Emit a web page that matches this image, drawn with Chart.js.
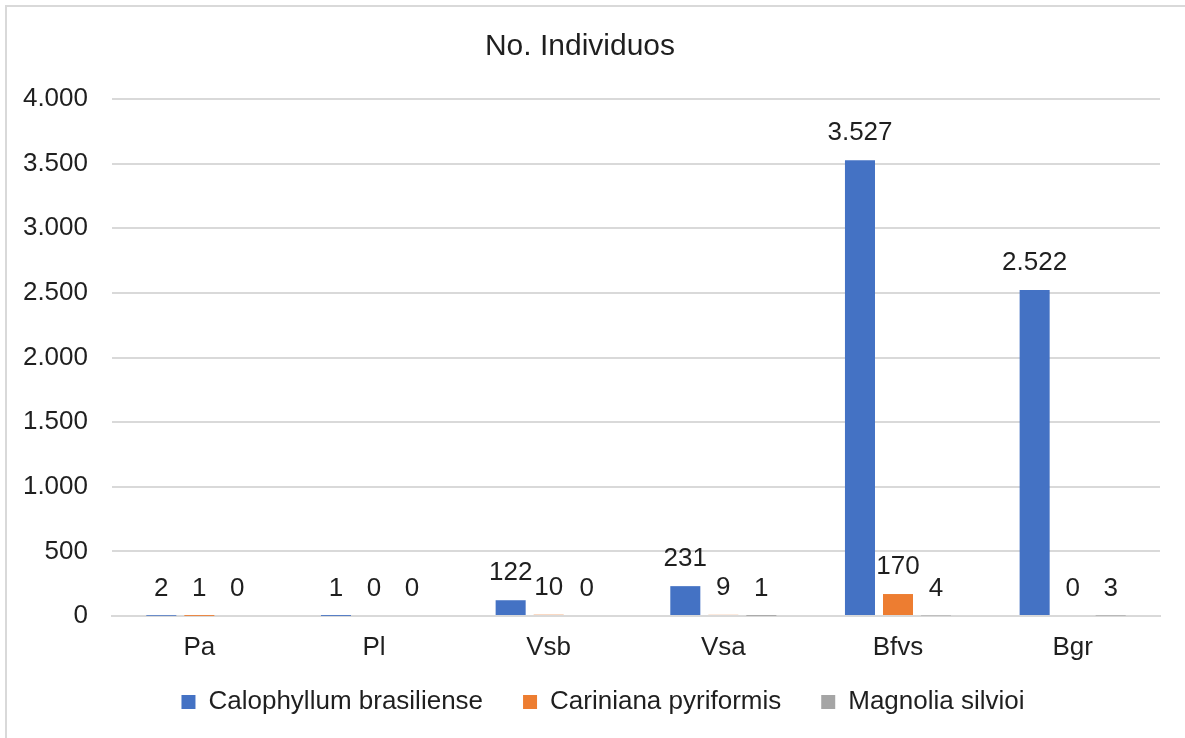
<!DOCTYPE html>
<html>
<head>
<meta charset="utf-8">
<script src="https://cdn.jsdelivr.net/npm/chart.js@4"></script>
<style>
  html, body { margin: 0; padding: 0; background: #fff; }
  #wrap { position: relative; width: 1185px; height: 738px; overflow: hidden; }
  #frame { position: absolute; left: 5px; top: 5px; width: 1190px; height: 740px; border: 2px solid #d9d9d9; box-sizing: border-box; pointer-events: none; }
</style>
</head>
<body>
<div id="wrap">
  <canvas id="chart"></canvas>
  <div id="frame"></div>
</div>
<script>
// datos
const categories = ['Pa', 'Pl', 'Vsb', 'Vsa', 'Bfvs', 'Bgr'];
const seriesNames = ['Calophyllum brasiliense', 'Cariniana pyriformis', 'Magnolia silvioi'];
const calophyllum = [2, 1, 122, 231, 3527, 2522];
const cariniana = [1, 0, 10, 9, 170, 0];
const magnolia = [0, 0, 0, 1, 4, 3];
const yTicks = [0, 500, 1000, 1500, 2000, 2500, 3000, 3500, 4000];
const colors = ['#4472C4', '#ED7D31', '#A5A5A5'];

const FONT = '"Liberation Sans", Arial, sans-serif';
const TXT = '#1f1f1f';

function fmt(n) {
  return String(n).replace(/\B(?=(\d{3})+(?!\d))/g, '.');
}

// etiquetas de datos encima de cada barra
const valueLabels = {
  id: 'valueLabels',
  afterDatasetsDraw(chart) {
    const ctx = chart.ctx;
    ctx.save();
    ctx.font = '26px ' + FONT;
    ctx.fillStyle = TXT;
    ctx.textAlign = 'center';
    ctx.textBaseline = 'middle';
    chart.data.datasets.forEach((ds, i) => {
      chart.getDatasetMeta(i).data.forEach((bar, j) => {
        ctx.fillText(fmt(ds.data[j]), bar.x, bar.y - 27);
      });
    });
    ctx.restore();
  }
};

// la leyenda ocupa menos alto en el layout y se coloca abajo
const legendPlace = {
  id: 'legendPlace',
  beforeUpdate(chart) {
    const lg = chart.legend;
    if (lg && !lg._patched) {
      const fit = lg.fit;
      lg.fit = function () { fit.call(this); this.height = 60; };
      lg._patched = true;
    }
  },
  afterLayout(chart) {
    const lg = chart.legend;
    lg.top = 649;
    lg.bottom = chart.height;
    lg.left += 23;
    lg.right += 23;
  }
};

new Chart(document.getElementById('chart'), {
  type: 'bar',
  data: {
    labels: categories,
    datasets: [calophyllum, cariniana, magnolia].map((d, i) => ({
      label: seriesNames[i],
      data: d,
      backgroundColor: colors[i],
      categoryPercentage: 0.653,
      barPercentage: 0.79
    }))
  },
  options: {
    responsive: true,
    maintainAspectRatio: false,
    animation: false,
    layout: { padding: { left: 0, right: 25, top: 29, bottom: 0 } },
    plugins: {
      title: {
        display: true,
        text: 'No. Individuos',
        color: TXT,
        font: { family: FONT, size: 30, weight: 'normal', lineHeight: 1.2 },
        padding: { top: 0, bottom: 34 }
      },
      legend: {
        position: 'bottom',
        labels: {
          boxWidth: 14,
          boxHeight: 14,
          padding: 40,
          color: TXT,
          font: { family: FONT, size: 26 }
        }
      },
      tooltip: { enabled: false }
    },
    scales: {
      x: {
        afterFit: s => { s.height = 62; },
        grid: { display: false, drawTicks: false },
        border: { display: true, color: '#d9d9d9', width: 2 },
        ticks: { color: TXT, font: { family: FONT, size: 26 }, padding: 16 }
      },
      y: {
        min: 0,
        max: 4000,
        afterBuildTicks: s => { s.ticks = yTicks.map(v => ({ value: v })); },
        afterFit: s => { s.width = 112; },
        grid: { color: '#d9d9d9', lineWidth: 2, drawTicks: false },
        border: { display: false },
        ticks: {
          color: TXT,
          font: { family: FONT, size: 26 },
          padding: 24,
          callback: v => fmt(v)
        }
      }
    }
  },
  plugins: [valueLabels, legendPlace]
});
</script>
</body>
</html>
